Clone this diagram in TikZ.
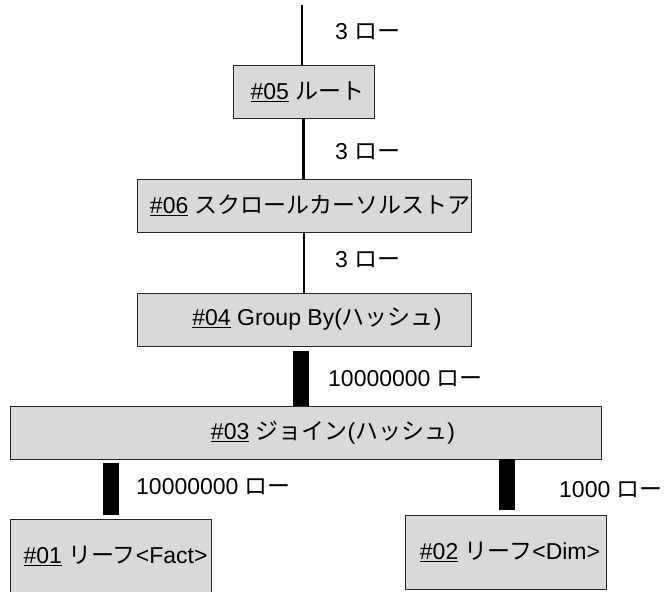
\documentclass[tikz,border=0pt]{standalone}
\usepackage{fontspec}
\setmainfont{Liberation Sans}
\newfontfamily\jp{Noto Sans CJK JP}
\usetikzlibrary{calc}
\newcommand\opnum[1]{\underline{\#0#1}}
\begin{document}
\begin{tikzpicture}[x=1pt,y=-1pt,
    every node/.style={font=\fontsize{23}{27}\selectfont},
    op/.style={draw=black!85,fill=black!15,line width=0.8pt,inner sep=0pt,minimum height=53pt},
    link/.style={line width=2.8pt},
    bar/.style={line width=16pt},
    rows/.style={anchor=west,inner sep=0pt}]
  \useasboundingbox (0,0) rectangle (668,591);
    \node[op,minimum width=141pt] (r05) at (303.5,91.5) {\hspace*{8pt}\opnum5 {\jp ルート}};
    \node[op,minimum width=334pt] (r06) at (304,205.5) {\hspace*{12pt}\opnum6 {\jp スクロールカーソルストア}};
    \node[op,minimum width=334pt] (r04) at (304,319.5) {\hspace*{26pt}\opnum4 Group By({\jp ハッシュ})};
    \node[op,minimum width=591pt] (r03) at (305.5,432.5) {\hspace*{55pt}\opnum3 {\jp ジョイン}({\jp ハッシュ})};
    \node[op,minimum width=201pt,minimum height=74pt] (r01) at (110.5,556) {\hspace*{10pt}\opnum1 {\jp リーフ}<Fact>};
    \node[op,minimum width=201pt,minimum height=74pt] (r02) at (505.5,552) {\hspace*{9pt}\opnum2 {\jp リーフ}<Dim>};
    \coordinate (in) at (302,5);
    \draw[link] (in) -- (in |- r05.north);
    \draw[link] (r05.south) -- (r05.south |- r06.north);
    \draw[link] (r06.south) -- (r06.south |- r04.north);
    \draw[bar] ($(r04.south)+(-3,5)$) -- ($(r04.south |- r03.north)+(-3,0)$);
    \draw[bar] ($(r03.south -| r01.north)+(0.5,4)$) -- ($(r01.north)+(0.5,-4)$);
    \draw[bar] ($(r03.south -| r02.north)+(1.5,0)$) -- ($(r02.north)+(1.5,-5)$);
    \node[rows] (l05) at (335,32) {3 {\jp ロー}};
    \node[rows] (l06) at (335,152) {3 {\jp ロー}};
    \node[rows] (l04) at (335,260) {3 {\jp ロー}};
    \node[rows] (l03) at (328,379) {10000000 {\jp ロー}};
    \node[rows] (l01) at (136,487) {10000000 {\jp ロー}};
    \node[rows] (l02) at (559,490) {1000 {\jp ロー}};
\end{tikzpicture}
\end{document}
